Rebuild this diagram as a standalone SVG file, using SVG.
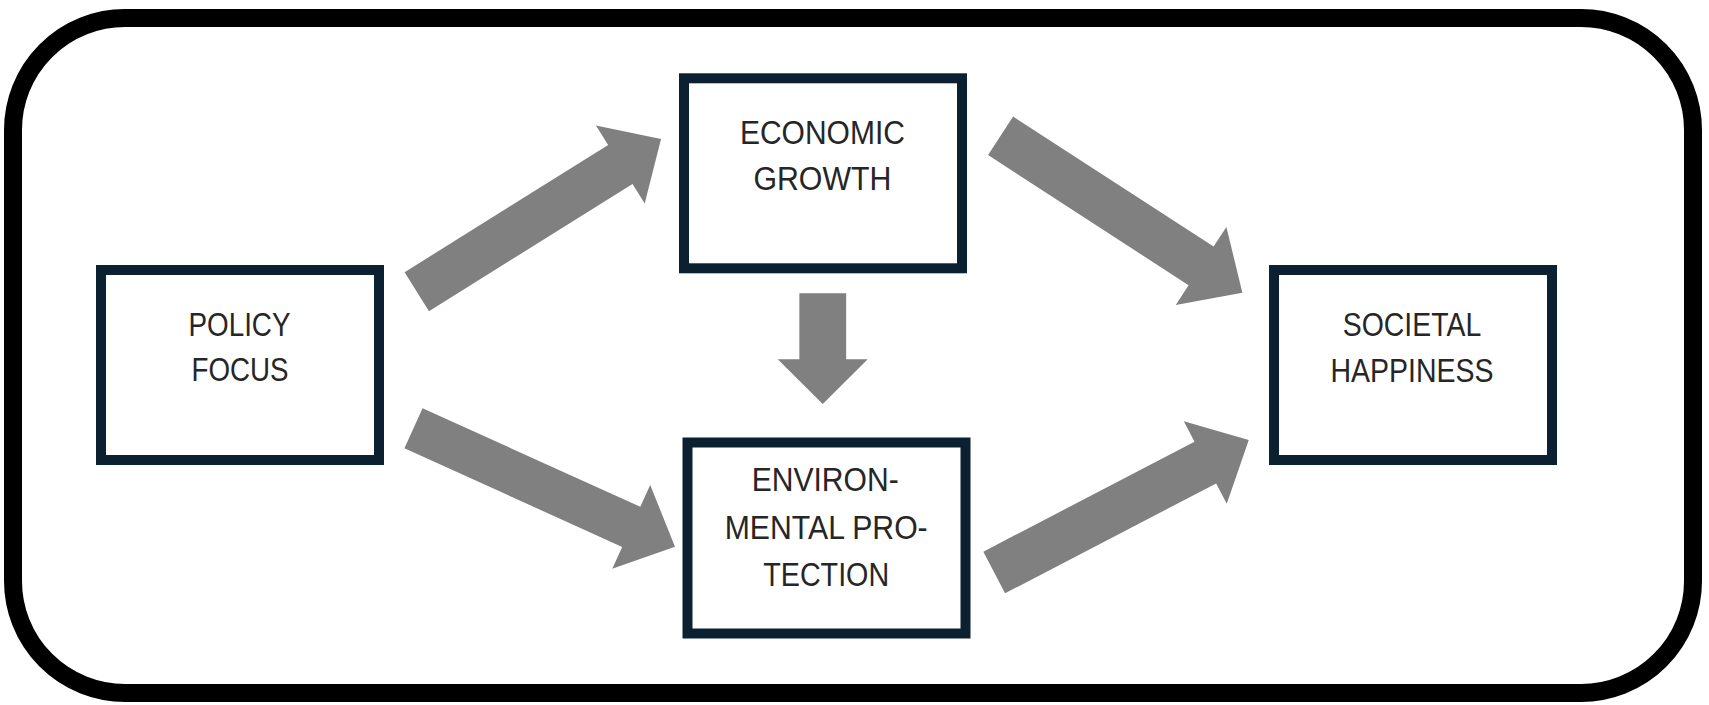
<svg xmlns="http://www.w3.org/2000/svg" width="1709" height="705" viewBox="0 0 1709 705">
<style>
.frame{fill:#fff;stroke:#000;stroke-width:18}
.box{fill:#fff;stroke:#0b2131;stroke-width:10}
.lbl{font-family:"Liberation Sans",Arial,sans-serif;font-size:33px;fill:#262626;text-anchor:middle}
.arr{fill:#808080}
</style>
<rect width="1709" height="705" fill="#fff"/>
<rect class="frame" x="13" y="18" width="1680" height="675" rx="112" ry="112"/>
<g id="connectors">
<path class="arr" transform="translate(416.8,291.7) rotate(-32)" d="M0,-23 L240,-23 L240,-46 L288,0 L240,46 L240,23 L0,23 Z"/>
<path class="arr" transform="translate(413.5,428.3) rotate(24.35)" d="M0,-22 L239,-22 L239,-46 L287,0 L239,46 L239,22 L0,22 Z"/>
<path class="arr" transform="translate(822.75,293.3) rotate(90)" d="M0,-23.4 L66,-23.4 L66,-45 L110.7,0 L66,45 L66,23.4 L0,23.4 Z"/>
<path class="arr" transform="translate(1000.6,135.8) rotate(32.98)" d="M0,-23 L239,-23 L239,-46.5 L288.2,0 L239,46.5 L239,23 L0,23 Z"/>
<path class="arr" transform="translate(994.2,572.5) rotate(-27.5)" d="M0,-23.5 L238,-23.5 L238,-46.5 L287,0 L238,46.5 L238,23.5 L0,23.5 Z"/>
</g>
<g id="policy-focus">
<rect class="box" x="101" y="270" width="278" height="190"/>
<text class="lbl" x="239.5" y="336" textLength="102" lengthAdjust="spacingAndGlyphs">POLICY</text>
<text class="lbl" x="240" y="381" textLength="97" lengthAdjust="spacingAndGlyphs">FOCUS</text>
</g>
<g id="economic-growth">
<rect class="box" x="684" y="78.3" width="278" height="190"/>
<text class="lbl" x="822.4" y="143.5" textLength="165" lengthAdjust="spacingAndGlyphs">ECONOMIC</text>
<text class="lbl" x="822.4" y="190" textLength="138" lengthAdjust="spacingAndGlyphs">GROWTH</text>
</g>
<g id="environmental-protection">
<rect class="box" x="687.5" y="442.5" width="278" height="191"/>
<text class="lbl" x="825.2" y="491" textLength="147" lengthAdjust="spacingAndGlyphs">ENVIRON-</text>
<text class="lbl" x="826.2" y="539.3" textLength="203" lengthAdjust="spacingAndGlyphs">MENTAL PRO-</text>
<text class="lbl" x="826.2" y="585.7" textLength="126" lengthAdjust="spacingAndGlyphs">TECTION</text>
</g>
<g id="societal-happiness">
<rect class="box" x="1274" y="270" width="278" height="190"/>
<text class="lbl" x="1412" y="336" textLength="138.5" lengthAdjust="spacingAndGlyphs">SOCIETAL</text>
<text class="lbl" x="1412" y="381.7" textLength="163" lengthAdjust="spacingAndGlyphs">HAPPINESS</text>
</g>
</svg>
